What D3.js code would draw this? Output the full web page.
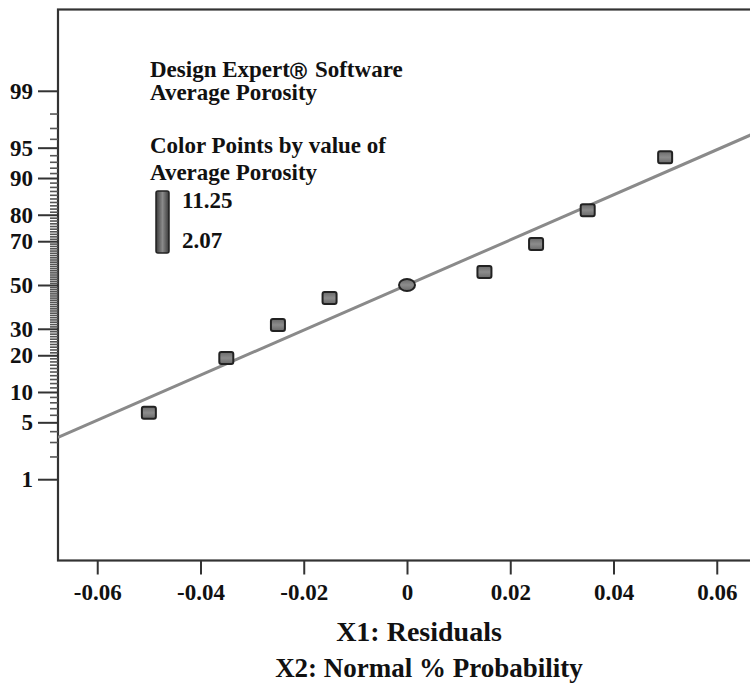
<!DOCTYPE html>
<html>
<head>
<meta charset="utf-8">
<script src="https://cdn.jsdelivr.net/npm/d3@7"></script>
<style>
  html, body { margin: 0; padding: 0; background: #fff; }
  svg text { font-family: "Liberation Serif", "Times New Roman", serif; font-weight: bold; fill: #111; }
</style>
</head>
<body>
<svg id="chart" width="750" height="683"></svg>
<script>
// Residuals of the Average Porosity model and their normal % probability
const residuals = [-0.050, -0.035, -0.025, -0.015, 0.000, 0.015, 0.025, 0.035, 0.050];
const probabilities = [6.3, 19.1, 31.6, 43.8, 50.0, 56.2, 68.8, 81.5, 93.7];
// Marker shape per run (the run at zero residual is drawn as an ellipse)
const markerShapes = ["square", "square", "square", "square", "ellipse", "square", "square", "square", "square"];

// Normal reference line end points
const lineResiduals = [-0.0676, 0.0676];
const lineProbabilities = [3.4, 96.6];

// Axis ticks
const xTickValues = [-0.06, -0.04, -0.02, 0, 0.02, 0.04, 0.06];
const yMajorTicks = [1, 5, 10, 20, 30, 50, 70, 80, 90, 95, 99];
const yMinorTicks = d3.range(1, 100).filter(p => !yMajorTicks.includes(p));

// Color legend range
const porosityRange = [2.07, 11.25];

// Inverse standard normal CDF (Acklam's rational approximation)
function probit(p) {
  const a = [-3.969683028665376e+01, 2.209460984245205e+02, -2.759285104469687e+02, 1.383577518672690e+02, -3.066479806614716e+01, 2.506628277459239e+00];
  const b = [-5.447609879822406e+01, 1.615858368580409e+02, -1.556989798598866e+02, 6.680131188771972e+01, -1.328068155288572e+01];
  const c = [-7.784894002430293e-03, -3.223964580411365e-01, -2.400758277161838e+00, -2.549732539343734e+00, 4.374664141464968e+00, 2.938163982698783e+00];
  const d = [7.784695709041462e-03, 3.224671290700398e-01, 2.445134137142996e+00, 3.754408661907416e+00];
  const pl = 0.02425, ph = 1 - pl;
  let q, r;
  if (p < pl) {
    q = Math.sqrt(-2 * Math.log(p));
    return (((((c[0]*q+c[1])*q+c[2])*q+c[3])*q+c[4])*q+c[5]) / ((((d[0]*q+d[1])*q+d[2])*q+d[3])*q+1);
  } else if (p <= ph) {
    q = p - 0.5; r = q * q;
    return (((((a[0]*r+a[1])*r+a[2])*r+a[3])*r+a[4])*r+a[5])*q / (((((b[0]*r+b[1])*r+b[2])*r+b[3])*r+b[4])*r+1);
  } else {
    q = Math.sqrt(-2 * Math.log(1 - p));
    return -(((((c[0]*q+c[1])*q+c[2])*q+c[3])*q+c[4])*q+c[5]) / ((((d[0]*q+d[1])*q+d[2])*q+d[3])*q+1);
  }
}

const svg = d3.select("#chart");

const plot = { left: 58, right: 756, top: 9.5, bottom: 560.5 };

const x = d3.scaleLinear().domain([-0.0676, 0.0676]).range([plot.left, plot.right]);
const z = d3.scaleLinear().domain([-3.3, 3.3]).range([plot.bottom, plot.top]);

// Normal-probability scale: percent -> pixel, usable by d3.axis
function makeProbScale() {
  const s = p => z(probit(p / 100));
  s.copy = () => makeProbScale();
  s.range = () => z.range();
  s.domain = () => [0.05, 99.95];
  return s;
}
const y = makeProbScale();

// Gradients for markers and the color bar
const defs = svg.append("defs");
const mg = defs.append("linearGradient").attr("id", "markerFill").attr("x1", 0).attr("y1", 0).attr("x2", 0).attr("y2", 1);
mg.append("stop").attr("offset", "0%").attr("stop-color", "#6a6a6a");
mg.append("stop").attr("offset", "50%").attr("stop-color", "#8c8c8c");
mg.append("stop").attr("offset", "100%").attr("stop-color", "#6a6a6a");
const cg = defs.append("linearGradient").attr("id", "barFill").attr("x1", 0).attr("y1", 0).attr("x2", 1).attr("y2", 0);
cg.append("stop").attr("offset", "0%").attr("stop-color", "#3a3a3a");
cg.append("stop").attr("offset", "50%").attr("stop-color", "#8a8a8a");
cg.append("stop").attr("offset", "100%").attr("stop-color", "#3a3a3a");

// Frame
svg.append("rect")
  .attr("x", plot.left).attr("y", plot.top)
  .attr("width", plot.right - plot.left).attr("height", plot.bottom - plot.top)
  .attr("fill", "none").attr("stroke", "#333").attr("stroke-width", 2.2);

// X axis (plain hyphen for negatives)
const fmtX = d => d === 0 ? "0" : d3.format(".2f")(d).replace("\u2212", "-");
svg.append("g")
  .attr("transform", `translate(0,${plot.bottom})`)
  .call(d3.axisBottom(x).tickValues(xTickValues).tickSize(14).tickPadding(9).tickFormat(fmtX))
  .call(g => g.select(".domain").remove())
  .call(g => g.selectAll("line").attr("stroke", "#333").attr("stroke-width", 2))
  .call(g => g.selectAll("text").attr("font-size", 23).attr("dy", "0.71em").attr("fill", "#111"));

// Y axis: minor ticks
svg.append("g")
  .attr("transform", `translate(${plot.left},0)`)
  .call(d3.axisLeft(y).tickValues(yMinorTicks).tickSize(8).tickFormat(""))
  .call(g => g.select(".domain").remove())
  .call(g => g.selectAll("line").attr("stroke", "#555").attr("stroke-width", 1.6));

// Y axis: major ticks with labels
svg.append("g")
  .attr("transform", `translate(${plot.left},0)`)
  .call(d3.axisLeft(y).tickValues(yMajorTicks).tickSize(20).tickPadding(5).tickFormat(d3.format("d")))
  .call(g => g.select(".domain").remove())
  .call(g => g.selectAll("line").attr("stroke", "#333").attr("stroke-width", 2))
  .call(g => g.selectAll("text").attr("font-size", 23).attr("fill", "#111"));

// Normal reference line
const clip = defs.append("clipPath").attr("id", "plotClip");
clip.append("rect").attr("x", plot.left).attr("y", plot.top)
  .attr("width", plot.right - plot.left).attr("height", plot.bottom - plot.top);

svg.append("path")
  .datum(lineResiduals.map((r, i) => [r, lineProbabilities[i]]))
  .attr("clip-path", "url(#plotClip)")
  .attr("d", d3.line().x(d => x(d[0])).y(d => y(d[1])))
  .attr("fill", "none").attr("stroke", "#8a8a8a").attr("stroke-width", 3);

// Points
const pts = residuals.map((r, i) => ({ r, p: probabilities[i], shape: markerShapes[i] }));
const g = svg.append("g");
g.selectAll("rect.pt").data(pts.filter(d => d.shape === "square")).join("rect")
  .attr("class", "pt")
  .attr("x", d => x(d.r) - 7).attr("y", d => y(d.p) - 6)
  .attr("width", 14).attr("height", 12).attr("rx", 2)
  .attr("fill", "url(#markerFill)").attr("stroke", "#222").attr("stroke-width", 2);
g.selectAll("ellipse.pt").data(pts.filter(d => d.shape === "ellipse")).join("ellipse")
  .attr("class", "pt")
  .attr("cx", d => x(d.r)).attr("cy", d => y(d.p))
  .attr("rx", 8).attr("ry", 6)
  .attr("fill", "url(#markerFill)").attr("stroke", "#222").attr("stroke-width", 2);

// Legend
const legend = svg.append("g").attr("font-size", 23);
const t1 = legend.append("text").attr("x", 150).attr("y", 77);
t1.append("tspan").text("Design Expert");
t1.append("tspan").attr("font-size", 17).attr("font-family", "DejaVu Sans").attr("font-weight", "bold").attr("dx", 0).text("\u24C7");
t1.append("tspan").attr("dx", 8).text("Software");
legend.append("text").attr("x", 150).attr("y", 100).text("Average Porosity");
legend.append("text").attr("x", 150).attr("y", 153).text("Color Points by value of");
legend.append("text").attr("x", 150).attr("y", 180).text("Average Porosity");

legend.append("rect")
  .attr("x", 156).attr("y", 191).attr("width", 13).attr("height", 62).attr("rx", 2)
  .attr("fill", "url(#barFill)").attr("stroke", "#222").attr("stroke-width", 1.5);
legend.append("text").attr("x", 182).attr("y", 208).text(d3.format(".2f")(porosityRange[1]));
legend.append("text").attr("x", 182).attr("y", 248).text(d3.format(".2f")(porosityRange[0]));

// Axis titles
svg.append("text").attr("x", 419).attr("y", 641).attr("text-anchor", "middle")
  .attr("font-size", 28).text("X1: Residuals");
svg.append("text").attr("x", 429).attr("y", 677).attr("text-anchor", "middle")
  .attr("font-size", 27).text("X2: Normal % Probability");
</script>
</body>
</html>
